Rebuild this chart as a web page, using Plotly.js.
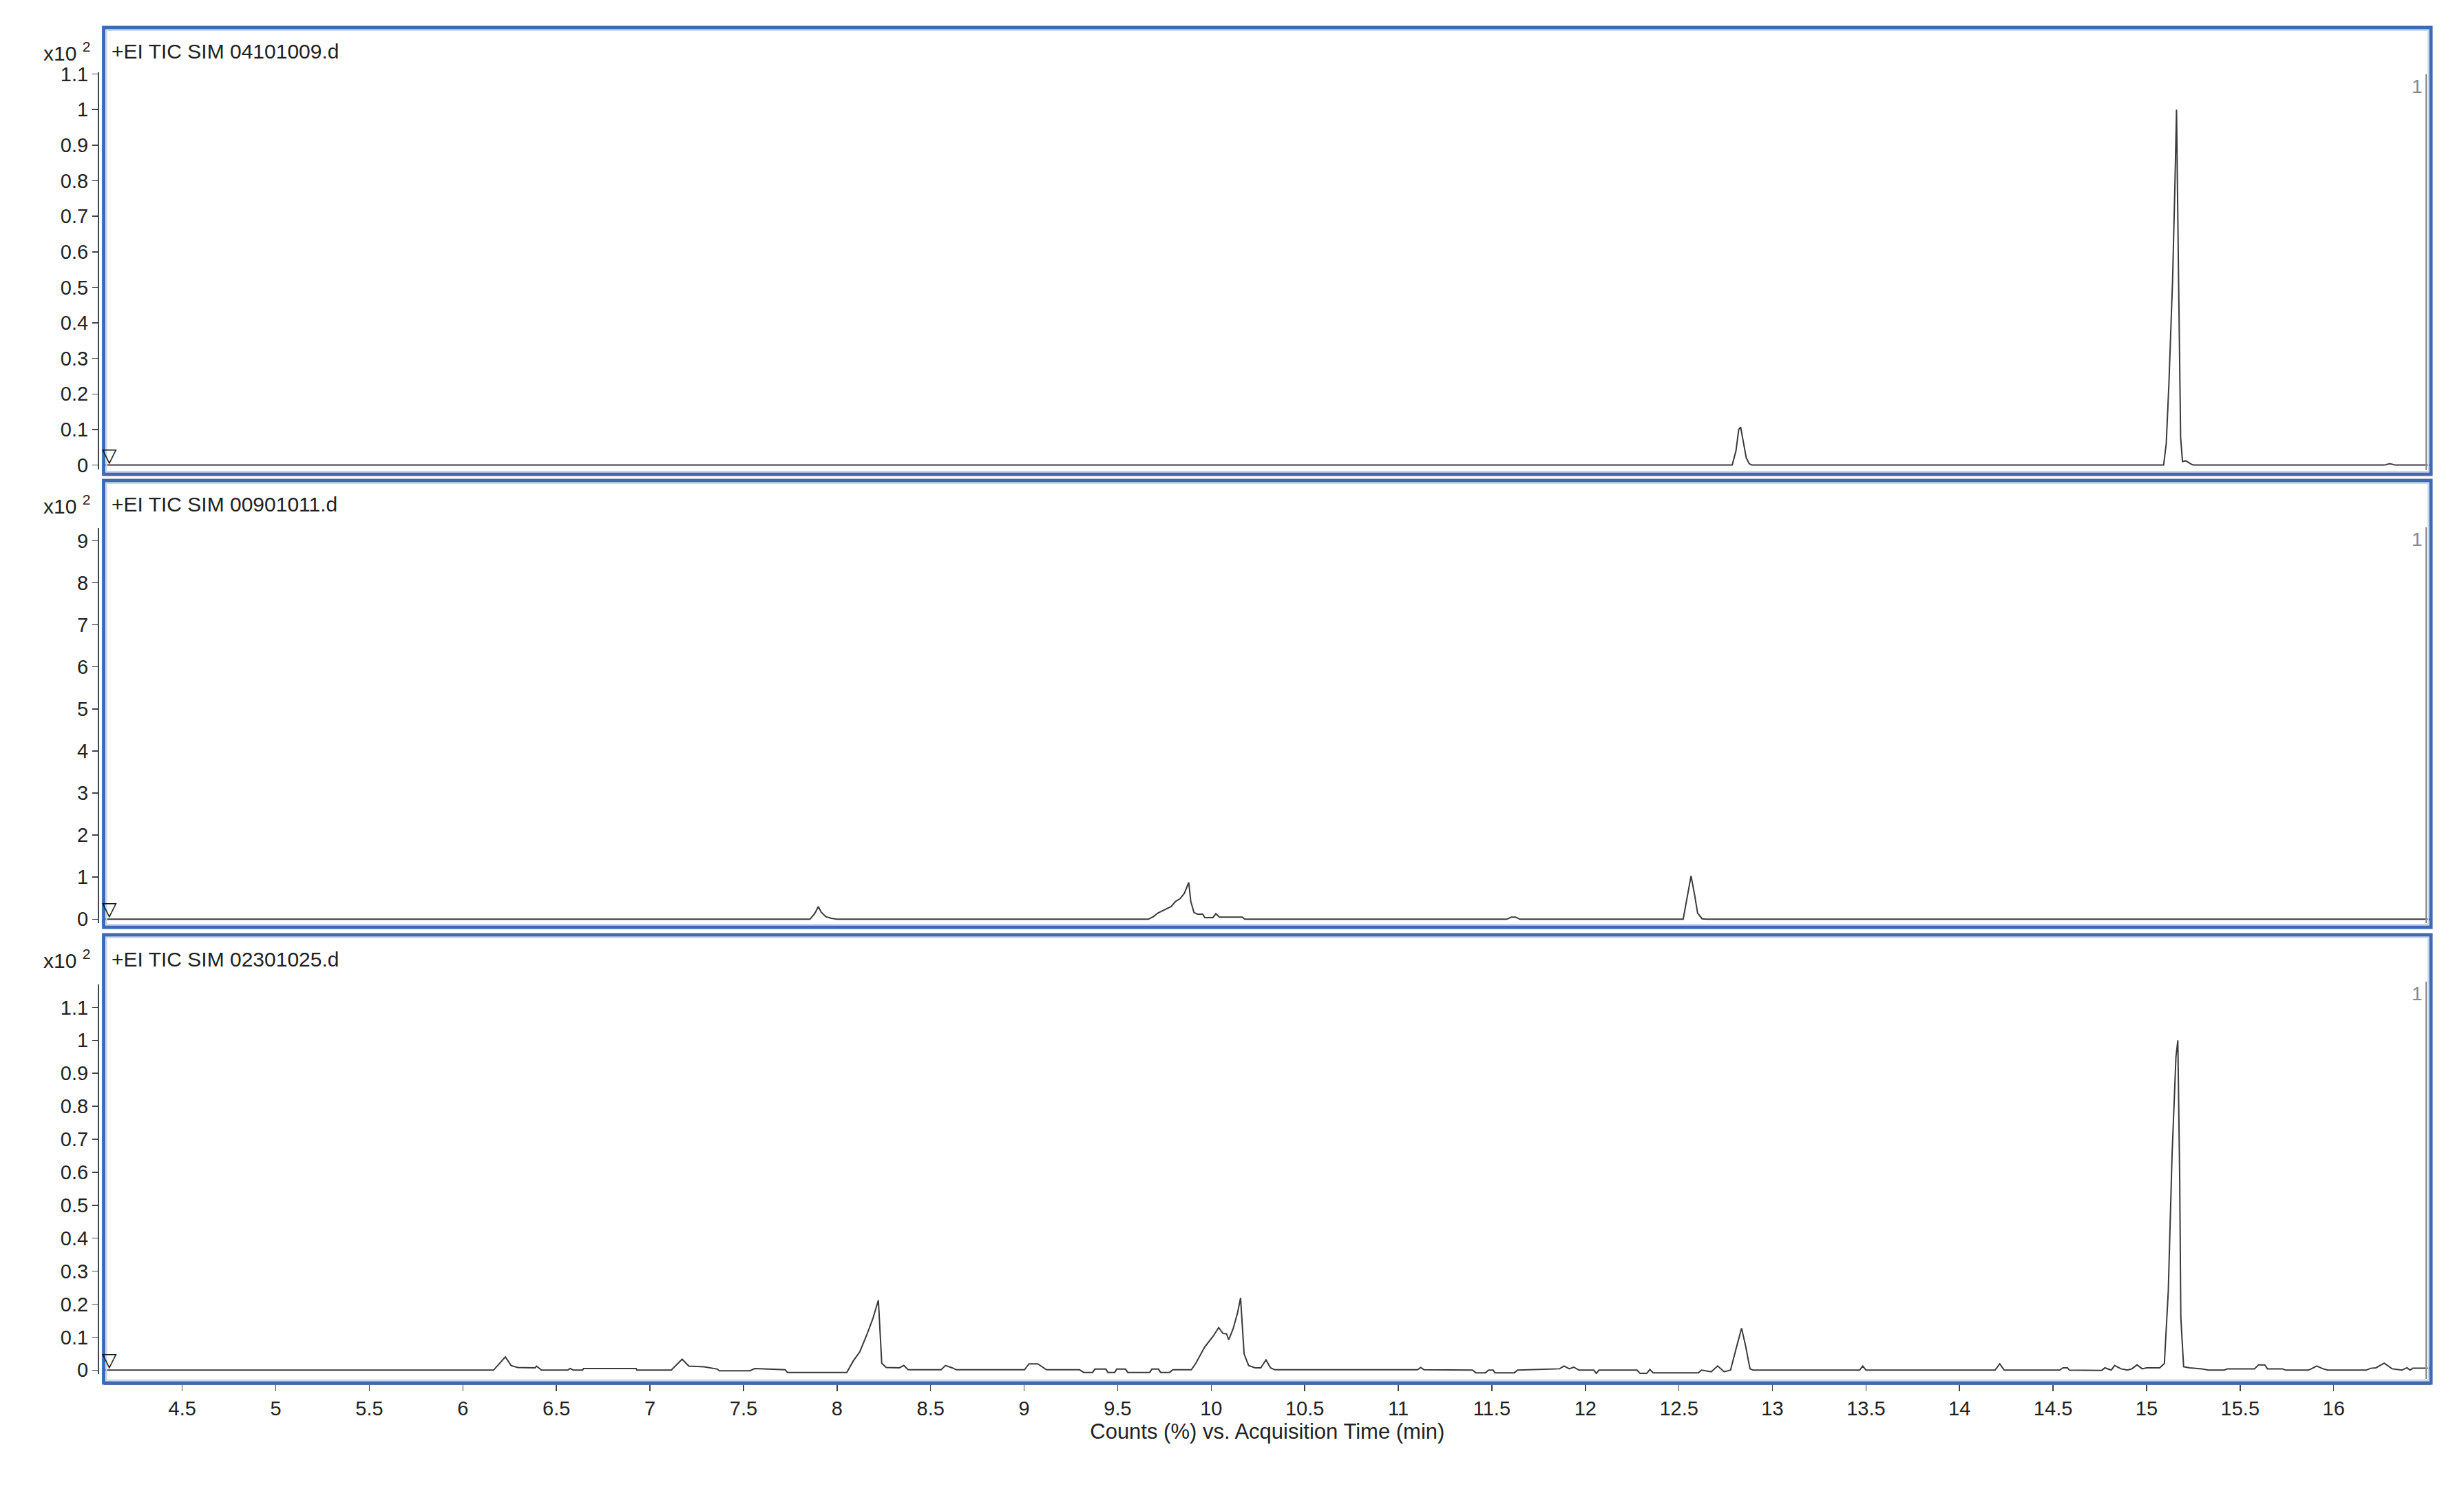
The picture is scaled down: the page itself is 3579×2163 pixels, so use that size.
<!DOCTYPE html>
<html>
<head>
<meta charset="utf-8">
<script src="https://cdn.plot.ly/plotly-3.0.1.min.js"></script>
<style>
  html, body { margin: 0; padding: 0; background: #fff; }
  #graph { width: 3579px; height: 2163px; }
</style>
</head>
<body>
<div id="graph"></div>
<script>
// acquisition time (min) and counts (x10^2)
const timeA = [4.08, 12.785, 12.805, 12.82, 12.83, 12.845, 12.86, 12.876, 12.89,
  15.091, 15.105, 15.119, 15.139, 15.152, 15.160, 15.171, 15.182, 15.192, 15.21, 15.234, 15.25,
  16.27, 16.30, 16.33, 16.52];
const countA = [0, 0, 0.04, 0.10, 0.107, 0.06, 0.02, 0.004, 0,
  0, 0.06, 0.225, 0.52, 0.80, 1.0, 0.52, 0.077, 0.01, 0.012, 0.004, 0,
  0, 0.004, 0, 0];

const timeB = [4.08, 7.855, 7.88, 7.90, 7.915, 7.94, 7.97, 8.0,
  9.664, 9.692, 9.715, 9.739, 9.762, 9.786, 9.809, 9.833, 9.856, 9.873, 9.880, 9.891, 9.908,
  9.927, 9.955, 9.966, 10.009, 10.025, 10.044, 10.166, 10.180,
  11.58, 11.604, 11.627, 11.65,
  12.523, 12.547, 12.565, 12.584, 12.600, 12.624, 12.648, 16.52];
const countB = [0, 0, 0.13, 0.30, 0.17, 0.06, 0.02, 0,
  0, 0.065, 0.147, 0.20, 0.256, 0.30, 0.42, 0.486, 0.611, 0.79, 0.873, 0.42, 0.158,
  0.12, 0.12, 0.038, 0.038, 0.131, 0.049, 0.049, 0,
  0, 0.05, 0.05, 0,
  0, 0.58, 1.03, 0.58, 0.147, 0.01, 0, 0];

const timeC = [4.08, 6.164, 6.227, 6.258, 6.293, 6.386, 6.394, 6.41, 6.42, 6.56, 6.574, 6.59,
  6.64, 6.645, 6.926, 6.93, 7.114, 7.172, 7.208, 7.29, 7.36, 7.37, 7.536, 7.56, 7.723, 7.735,
  8.052, 8.087, 8.122, 8.157, 8.192, 8.221, 8.239, 8.263, 8.333, 8.357, 8.38, 8.556, 8.58, 8.615,
  8.638, 9.002, 9.026, 9.073, 9.12, 9.296, 9.319, 9.366, 9.378, 9.437, 9.448, 9.484, 9.495,
  9.542, 9.554, 9.671, 9.683, 9.718, 9.73, 9.777, 9.796, 9.894,
  9.918, 9.965, 10.012, 10.04, 10.063, 10.082, 10.094, 10.117, 10.141, 10.157, 10.176, 10.2,
  10.235, 10.265, 10.293, 10.317, 10.34, 11.103, 11.12, 11.138,
  11.397, 11.414, 11.466, 11.483, 11.507, 11.517, 11.62, 11.638, 11.862, 11.886, 11.914,
  11.938, 11.966, 12.045, 12.059, 12.073, 12.276, 12.293, 12.328, 12.345, 12.362, 12.604,
  12.621, 12.673, 12.707, 12.742, 12.776, 12.804, 12.835, 12.856, 12.88, 12.897,
  13.466, 13.483, 13.5, 14.19, 14.215, 14.239, 14.535, 14.553, 14.577, 14.587, 14.76, 14.777,
  14.811, 14.829, 14.863, 14.898, 14.922, 14.949, 14.976, 15.0, 15.07,
  15.095, 15.116, 15.136, 15.157, 15.167, 15.177, 15.183, 15.198, 15.23, 15.294, 15.329,
  15.415, 15.433, 15.577, 15.598, 15.632, 15.646, 15.726, 15.743, 15.864, 15.881, 15.909,
  15.943, 15.967, 16.174, 16.198, 16.226, 16.27, 16.312, 16.364, 16.392, 16.409, 16.423, 16.52];
const countC = [0, 0, 0.04, 0.014, 0.008, 0.007, 0.012, 0.005, 0, 0, 0.005, 0,
  0, 0.005, 0.005, 0, 0, 0.033, 0.012, 0.01, 0.003, -0.002, -0.002, 0.005, 0.001, -0.007,
  -0.007, 0.028, 0.056, 0.104, 0.157, 0.212, 0.021, 0.008, 0.007, 0.014, 0.001, 0.001, 0.014, 0.007,
  0.001, 0.001, 0.019, 0.019, 0.001, 0.001, -0.007, -0.007, 0.003, 0.003, -0.007, -0.007, 0.003,
  0.003, -0.007, -0.007, 0.003, 0.003, -0.007, -0.007, 0.001, 0.001,
  0.021, 0.07, 0.104, 0.129, 0.111, 0.11, 0.092, 0.125, 0.174, 0.219, 0.049, 0.014,
  0.007, 0.007, 0.031, 0.007, 0.001, 0.001, 0.008, 0.001,
  0, -0.008, -0.008, 0, 0, -0.008, -0.008, 0, 0.004, 0.0125, 0.004,
  0.009, 0, 0, -0.01, 0, 0, -0.01, -0.01, 0.002, -0.008, -0.008,
  0, -0.005, 0.0125, -0.005, 0, 0.061, 0.127, 0.075, 0.004, 0,
  0, 0.0125, 0, 0, 0.019, 0, 0, 0.007, 0.007, 0, -0.001, 0.007,
  0, 0.014, 0.004, 0, 0.004, 0.016, 0.004, 0.007, 0.007,
  0.02, 0.24, 0.65, 0.95, 1.0, 0.58, 0.16, 0.01, 0.007, 0.004, 0,
  0, 0.004, 0.004, 0.016, 0.016, 0.004, 0.004, 0, 0, 0.004, 0.0125,
  0.004, 0, 0, 0.0056, 0.007, 0.021, 0.004, 0, 0.007, 0, 0.0056, 0.0056];

const panelNames = ['+EI TIC SIM 04101009.d', '+EI TIC SIM 00901011.d', '+EI TIC SIM 02301025.d'];
const xTickVals = [4.5, 5, 5.5, 6, 6.5, 7, 7.5, 8, 8.5, 9, 9.5, 10, 10.5, 11, 11.5, 12,
  12.5, 13, 13.5, 14, 14.5, 15, 15.5, 16];
const xRange = [4.08, 16.52];

// page geometry in pixels
const W = 3579, H = 2163;
const px = v => v / W;
const py = v => 1 - v / H;
const boxLeft = 150.6, boxRight = 3531;
const panels = [
  {top: 40, bottom: 689, zero: 675.6, unit: 516.4, axisTop: 1.105, dtick: 0.1},
  {top: 698, bottom: 1347, zero: 1335.3, unit: 61.1, axisTop: 9.3, dtick: 1},
  {top: 1358, bottom: 2009, zero: 1990.3, unit: 479, axisTop: 1.17, dtick: 0.1}
];

const font = 'Liberation Sans, Arial, sans-serif';
const ink = '#222222';
const series = [[timeA, countA], [timeB, countB], [timeC, countC]];

const traces = series.map(([t, c], i) => ({
  x: t,
  y: c,
  xaxis: 'x',
  yaxis: i === 0 ? 'y' : 'y' + (i + 1),
  type: 'scatter',
  mode: 'lines',
  line: {color: '#3a3a3a', width: 2},
  hoverinfo: 'skip'
}));

const layout = {
  width: W,
  height: H,
  margin: {l: 0, r: 0, t: 0, b: 0},
  paper_bgcolor: '#ffffff',
  plot_bgcolor: 'rgba(0,0,0,0)',
  showlegend: false,
  font: {family: font, color: ink, size: 29},
  xaxis: {
    domain: [px(boxLeft), px(boxRight)],
    range: xRange,
    anchor: 'free',
    position: py(2011),
    tickmode: 'array',
    tickvals: xTickVals,
    ticks: 'outside',
    ticklen: 9,
    tickwidth: 1.5,
    tickcolor: '#444',
    showline: true,
    linecolor: '#6d7f99',
    linewidth: 2,
    showgrid: false,
    zeroline: false,
    tickfont: {family: font, size: 29, color: ink},
    title: {text: 'Counts (%) vs. Acquisition Time (min)', font: {family: font, size: 31, color: ink}, standoff: 6}
  },
  shapes: [],
  annotations: []
};

panels.forEach((p, i) => {
  const key = i === 0 ? 'yaxis' : 'yaxis' + (i + 1);
  const yref = i === 0 ? 'y' : 'y' + (i + 1);
  const yMin = -6 / p.unit;
  layout[key] = {
    domain: [py(p.zero + 6), py(p.zero - p.axisTop * p.unit)],
    range: [yMin, p.axisTop],
    anchor: 'free',
    position: px(142),
    tick0: 0,
    dtick: p.dtick,
    ticks: 'outside',
    ticklen: 8,
    tickwidth: 1.5,
    tickcolor: '#444',
    showline: true,
    linecolor: '#444',
    linewidth: 1.5,
    showgrid: false,
    zeroline: false,
    tickfont: {family: font, size: 29, color: ink}
  };

  // blue frame around each chromatogram
  layout.shapes.push({
    type: 'rect', xref: 'paper', yref: 'paper',
    x0: px(boxLeft), x1: px(boxRight), y0: py(p.bottom), y1: py(p.top),
    line: {color: '#4169b0', width: 5}
  });
  layout.shapes.push({
    type: 'rect', xref: 'paper', yref: 'paper',
    x0: px(boxLeft + 4), x1: px(boxRight - 4), y0: py(p.bottom - 4), y1: py(p.top + 4),
    line: {color: '#c5d8f0', width: 2}
  });
  layout.shapes.push({
    type: 'line', xref: 'paper', yref: 'paper',
    x0: px(3524), x1: px(3524), y0: py(p.top + 68), y1: py(p.bottom - 6),
    line: {color: '#8c8c8c', width: 2}
  });

  layout.annotations.push({
    xref: 'paper', yref: 'paper', x: px(160), y: py(p.top + 35),
    xanchor: 'left', yanchor: 'middle', showarrow: false,
    text: panelNames[i], font: {family: font, size: 30, color: ink}
  });
  layout.annotations.push({
    xref: 'paper', yref: 'paper', x: px(133), y: py(p.top + 35),
    xanchor: 'right', yanchor: 'middle', showarrow: false,
    text: 'x10 <sup>2</sup>', font: {family: font, size: 30, color: ink}
  });
  layout.annotations.push({
    xref: 'paper', yref: 'paper', x: px(3521), y: py(p.top + 85),
    xanchor: 'right', yanchor: 'middle', showarrow: false,
    text: '1', font: {family: font, size: 28, color: '#8a8a8a'}
  });
  layout.annotations.push({
    xref: 'x', yref: yref, x: xRange[0], y: 0,
    xanchor: 'left', yanchor: 'bottom', showarrow: false,
    borderpad: 0, xshift: -4, yshift: -3,
    text: '▽', font: {family: 'DejaVu Sans', size: 28, color: '#111111'}
  });
});

Plotly.newPlot('graph', traces, layout, {staticPlot: true});
</script>
</body>
</html>
